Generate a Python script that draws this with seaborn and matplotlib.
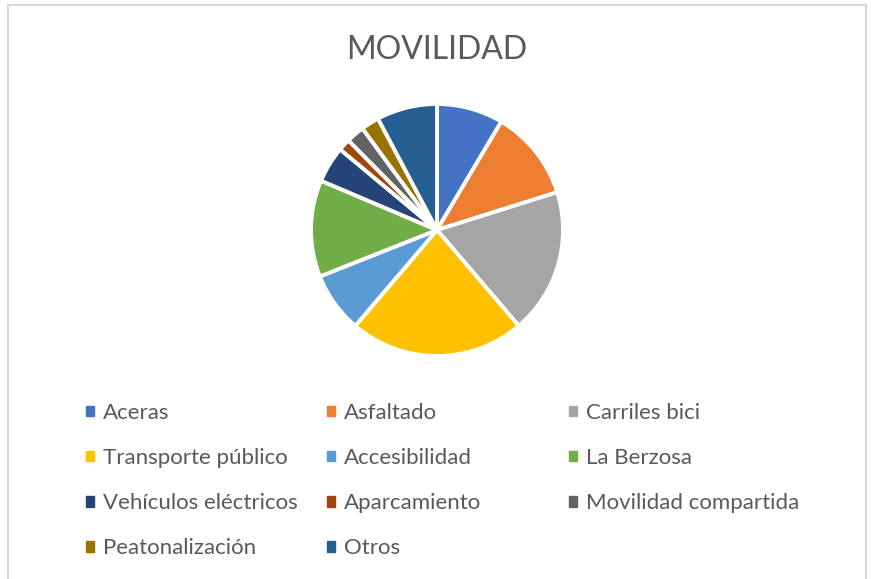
import matplotlib
matplotlib.use('Agg')
import matplotlib.pyplot as plt
import matplotlib.patches as mpatches
from matplotlib.lines import Line2D
import seaborn as sns

# Data
categories = ['Aceras', 'Asfaltado', 'Carriles bici', 'Transporte público',
              'Accesibilidad', 'La Berzosa', 'Vehículos eléctricos',
              'Aparcamiento', 'Movilidad compartida', 'Peatonalización', 'Otros']
values = [11, 15, 24, 29, 10, 16, 6, 2, 3, 3, 10]
colors = ['#4472C4', '#ED7D31', '#A5A5A5', '#FFC000', '#5B9BD5', '#70AD47',
          '#264478', '#9E480E', '#636363', '#997300', '#255E91']

sns.set_theme(style='white')
plt.rcParams['font.family'] = ['Lato', 'DejaVu Sans']

W, H = 871, 579
fig = plt.figure(figsize=(W / 100, H / 100), dpi=100)

# Pie axes: centre (437, 230), radius 126 px
cx, cy, r = 437, 230, 126
ax = fig.add_axes([(cx - r) / W, 1 - (cy + r) / H, 2 * r / W, 2 * r / H])
ax.pie(values, colors=colors, startangle=90, counterclock=False,
       wedgeprops=dict(edgecolor='white', linewidth=2.8))
ax.set_xlim(-1, 1)
ax.set_ylim(-1, 1)
ax.set_aspect('equal')
ax.axis('off')

fig.text(cx / W, 1 - 50 / H, 'MOVILIDAD', ha='center', va='center',
         fontsize=23, color='#595959')

# Legend: laid out in rows of three, one legend per column
handles = [mpatches.Patch(color=c, label=l) for c, l in zip(colors, categories)]
col_x = [86, 327, 569]
for i, x in enumerate(col_x):
    hs = handles[i::3]
    fig.legend(handles=hs, loc='upper left',
               bbox_to_anchor=(x / W, 1 - 403 / H),
               frameon=False, fontsize=16, labelcolor='#595959',
               handlelength=0.36, handleheight=0.36, handletextpad=0.4,
               labelspacing=1.13, borderpad=0, borderaxespad=0)

# Chart area border
bc = '#D9D9D9'
fig.add_artist(Line2D([8 / W, 8 / W], [0, 1 - 5 / H], color=bc, lw=1.5))
fig.add_artist(Line2D([8 / W, 866 / W], [1 - 5 / H, 1 - 5 / H], color=bc, lw=1.5))
fig.add_artist(Line2D([866 / W, 866 / W], [0, 1 - 5 / H], color=bc, lw=1.5))

fig.savefig('out.png', dpi=100)
